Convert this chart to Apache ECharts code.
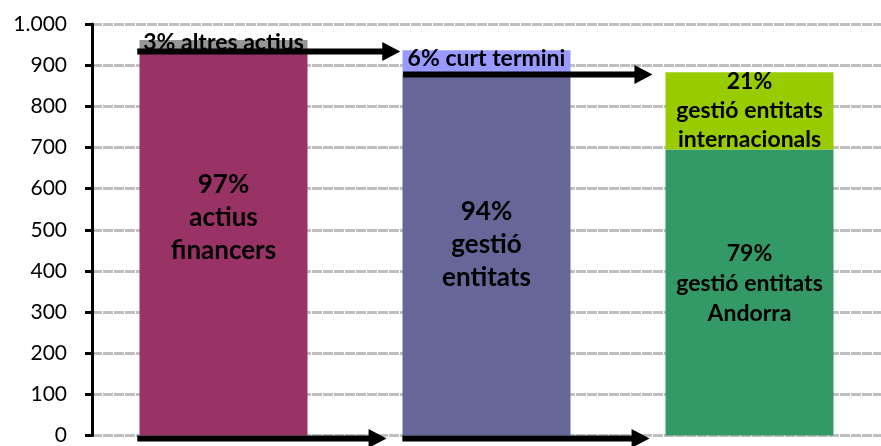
<!DOCTYPE html>
<html>
<head>
<meta charset="utf-8">
<script src="https://cdn.jsdelivr.net/npm/echarts@6/dist/echarts.min.js"></script>
<style>
html,body{margin:0;padding:0;background:#fff;}
#chart{width:881px;height:446px;}
</style>
</head>
<body>
<div id="chart"></div>
<script>
// ---- data ----
var categories = ['Actius', 'Gestió entitats', 'Entitats gestionades'];
var baseValues = [930, 880, 695];
var topValues = [31, 56, 188];
var baseLabels = ['97%\nactius\nfinancers', '94%\ngestió\nentitats', '79%\ngestió entitats\nAndorra'];
var topLabels = ['3% altres actius', '6% curt termini', '21%\ngestió entitats\ninternacionals'];
var yTickValues = [0, 100, 200, 300, 400, 500, 600, 700, 800, 900, 1000];
var yTickLabels = ['0', '100', '200', '300', '400', '500', '600', '700', '800', '900', '1.000'];
// arrows: start / end along categories (0..3), level on value axis
var arrowStart = [0.172, 1.183, 0.172, 1.18];
var arrowEnd = [1.172, 2.131, 1.12, 2.12];
var arrowLevel = [933, 877, -7, -7];

// ---- styles ----
var baseColors = ['#993366', '#666699', '#339966'];
var topColors = ['#969696', '#9999FF', '#99CC00'];
var baseLabelStyle = [
  {fontSize: 26, lineHeight: 33, offset: [0, -27]},
  {fontSize: 26, lineHeight: 33, offset: [0, -10]},
  {fontSize: 23, lineHeight: 30, offset: [0, -9]}
];
var topLabelStyle = [
  {fontSize: 23, lineHeight: 26, offset: [0, -4]},
  {fontSize: 23, lineHeight: 26, offset: [0, -3]},
  {fontSize: 23, lineHeight: 29, offset: [0, 0]}
];
var FONT = 'Lato';

function barData(values, colors, labels, styles) {
  return values.map(function (v, i) {
    return {
      value: v,
      itemStyle: {color: colors[i]},
      label: {
        show: true,
        position: 'inside',
        formatter: labels[i],
        color: '#000',
        fontWeight: 'bold',
        fontFamily: FONT,
        fontSize: styles[i].fontSize,
        lineHeight: styles[i].lineHeight,
        offset: styles[i].offset
      }
    };
  });
}

var arrowData = arrowStart.map(function (s, i) {
  return [s, arrowEnd[i], arrowLevel[i]];
});

var chart = echarts.init(document.getElementById('chart'));
chart.setOption({
  animation: false,
  grid: {left: 92, top: 24, width: 801, height: 416, containLabel: false},
  xAxis: [
    {type: 'category', data: categories, axisLine: {show: false}, axisTick: {show: false},
     axisLabel: {show: false}, splitLine: {show: false}},
    {type: 'value', min: 0, max: 3, show: false}
  ],
  yAxis: {
    type: 'value', min: 0, max: 1000, interval: 100, offset: 2,
    axisLine: {show: true, lineStyle: {color: '#000', width: 3}},
    axisTick: {show: true, length: 7, lineStyle: {color: '#000', width: 3}},
    axisLabel: {
      color: '#000', fontFamily: FONT, fontSize: 21, margin: 23,
      formatter: function (v) {
        var idx = yTickValues.indexOf(v);
        return idx >= 0 ? yTickLabels[idx] : '';
      }
    },
    splitLine: {show: true, lineStyle: {color: '#bfbfbf', width: 3, type: [10, 1]}}
  },
  series: [
    {type: 'bar', stack: 'total', barWidth: 168, data: barData(baseValues, baseColors, baseLabels, baseLabelStyle)},
    {type: 'bar', stack: 'total', barWidth: 168, data: barData(topValues, topColors, topLabels, topLabelStyle)},
    {
      type: 'custom', xAxisIndex: 1, yAxisIndex: 0, clip: false, z: 10,
      data: arrowData,
      renderItem: function (params, api) {
        var p0 = api.coord([api.value(0), api.value(2)]);
        var p1 = api.coord([api.value(1), api.value(2)]);
        var half = 3, headLen = 18, headHalf = 9.5;
        return {
          type: 'group',
          children: [
            {type: 'rect', shape: {x: p0[0], y: p0[1] - half, width: p1[0] - p0[0] - headLen + 1, height: half * 2},
             style: {fill: '#000'}},
            {type: 'polygon', shape: {points: [[p1[0] - headLen, p1[1] - headHalf], [p1[0], p1[1]], [p1[0] - headLen, p1[1] + headHalf]]},
             style: {fill: '#000'}}
          ]
        };
      }
    }
  ]
});
</script>
</body>
</html>
